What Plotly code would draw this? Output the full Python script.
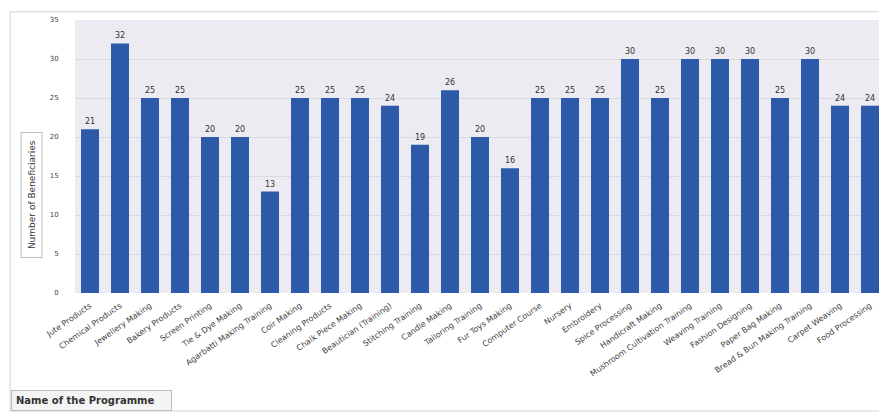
import plotly.graph_objects as go

programmes = [
    "Jute Products", "Chemical Products", "Jewellery Making", "Bakery Products",
    "Screen Printing", "Tie & Dye Making", "Agarbatti Making Training", "Coir Making",
    "Cleaning Products", "Chalk Piece Making", "Beautician (Training)", "Stitching Training",
    "Candle Making", "Tailoring Training", "Fur Toys Making", "Computer Course",
    "Nursery", "Embroidery", "Spice Processing", "Handicraft Making",
    "Mushroom Cultivation Training", "Weaving Training", "Fashion Designing",
    "Paper Bag Making", "Bread & Bun Making Training", "Carpet Weaving", "Food Processing",
]
beneficiaries = [21, 32, 25, 25, 20, 20, 13, 25, 25, 25, 24, 19, 26, 20, 16,
                 25, 25, 25, 30, 25, 30, 30, 30, 25, 30, 24, 24]
y_ticks = [0, 5, 10, 15, 20, 25, 30, 35]

fig = go.Figure(go.Bar(
    x=programmes, y=beneficiaries,
    marker=dict(color="#2c5aa8", line=dict(width=0)),
    text=[str(v) for v in beneficiaries], textposition="outside",
    textfont=dict(size=8, color="#333333", family="DejaVu Sans"),
    cliponaxis=False,
))

fig.update_layout(
    width=879, height=404,
    margin=dict(l=67, r=2, t=12, b=119),
    paper_bgcolor="#ffffff", plot_bgcolor="#ebebf1",
    bargap=0.4, showlegend=False,
    font=dict(family="DejaVu Sans", color="#444444"),
    xaxis=dict(tickangle=-35, tickfont=dict(size=8, color="#3f3f3f"),
               showgrid=False, showline=False, ticks="outside", ticklen=4,
               tickcolor="rgba(0,0,0,0)"),
    yaxis=dict(range=[0, 35], tickvals=y_ticks,
               tickfont=dict(size=7, color="#444444"),
               gridcolor="#d9d9e2", zeroline=False, ticks="outside", ticklen=14,
               tickcolor="rgba(0,0,0,0)"),
    shapes=[
        dict(type="rect", xref="paper", yref="paper", x0=-0.080, x1=1.001, y0=-0.432, y1=1.03,
             line=dict(color="#e2e2e2", width=1.5), fillcolor="rgba(0,0,0,0)", layer="below"),
    ],
    annotations=[
        dict(text="\u00a0Number of Beneficiaries\u00a0", textangle=-90, xref="paper", yref="paper",
             x=-0.054, y=0.36, xanchor="center", yanchor="middle", showarrow=False,
             font=dict(size=9, color="#333333"),
             bordercolor="#bdbdbd", borderwidth=1, borderpad=5, bgcolor="#ffffff"),
        dict(text="<b>Name of the Programme</b>\u00a0\u00a0\u00a0\u00a0", xref="paper", yref="paper",
             x=-0.079, y=-0.392, xanchor="left", yanchor="middle", showarrow=False,
             font=dict(size=10, color="#333333"),
             bordercolor="#bdbdbd", borderwidth=1, borderpad=4, bgcolor="#f4f4f4"),
    ],
)

fig.write_html("out.html")
